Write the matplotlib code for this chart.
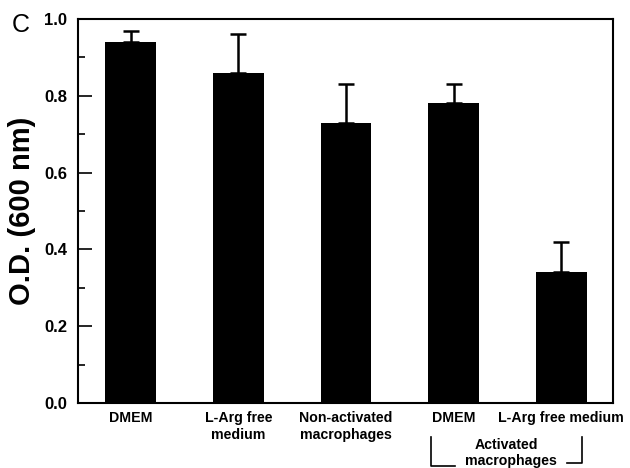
import matplotlib
matplotlib.use("Agg")
import matplotlib.pyplot as plt
from matplotlib.ticker import MultipleLocator

plt.rcParams['font.family'] = ['Liberation Sans', 'DejaVu Sans']

# data
groups = ["DMEM", "L-Arg free\nmedium", "Non-activated\nmacrophages",
          "DMEM", "L-Arg free medium"]
od_mean = [0.94, 0.86, 0.73, 0.78, 0.34]
od_err = [0.03, 0.10, 0.10, 0.05, 0.08]
yticks = [0.0, 0.2, 0.4, 0.6, 0.8, 1.0]

fig = plt.figure(figsize=(6.3, 4.68), dpi=100)
ax = fig.add_axes([0.1238, 0.1389, 0.8492, 0.8205])

x = list(range(len(groups)))
ax.bar(x, od_mean, width=0.47, color="black", zorder=2)
ax.errorbar(x, od_mean, yerr=[[0] * len(od_err), od_err], fmt="none",
            ecolor="black", elinewidth=1.8, capsize=5.5, capthick=1.8, zorder=1)

ax.set_xlim(-0.49, 4.48)
ax.set_ylim(0, 1.0)
ax.set_yticks(yticks)
ax.set_yticklabels([f"{v:.1f}" for v in yticks], fontweight="bold", fontsize=12)
ax.yaxis.set_minor_locator(MultipleLocator(0.1))
ax.tick_params(axis="y", which="major", direction="in", length=10, width=1.2, pad=8)
ax.tick_params(axis="y", which="minor", direction="in", length=5, width=1.2)
ax.set_xticks(x)
ax.set_xticklabels(groups, fontweight="bold", fontsize=10.2, linespacing=1.2)
ax.tick_params(axis="x", length=0, pad=6)
for s in ax.spines.values():
    s.set_linewidth(1.5)

ax.set_ylabel("O.D. (600 nm)", fontweight="bold", fontsize=21, labelpad=6)
fig.text(0.018, 0.932, "C", fontsize=18, va="baseline", ha="left")

# bracket under the activated macrophage groups
tr = ax.get_xaxis_transform()
kw = dict(color="black", lw=1.2, clip_on=False, transform=tr)
ax.plot([2.79, 2.79, 3.01], [-0.088, -0.165, -0.165], **kw)
ax.plot([4.05, 4.19, 4.19], [-0.156, -0.156, -0.088], **kw)
ax.text(3.49, -0.109, "Activated", transform=tr, ha="center", va="center",
        fontweight="bold", fontsize=10.2)
ax.text(3.53, -0.150, "macrophages", transform=tr, ha="center", va="center",
        fontweight="bold", fontsize=10.2)

fig.savefig("out.png", dpi=100)
